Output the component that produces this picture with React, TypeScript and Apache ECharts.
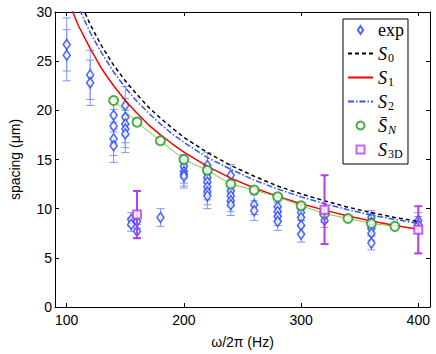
import React, { useEffect, useRef } from "react";
import * as echarts from "echarts";

// Experimental points (frequency in Hz, spacing in µm, error half-width)
const expFreq = [
  100, 100, 120, 120, 140, 140, 140, 140, 150, 150, 150, 150, 150, 155, 155, 160, 160, 180,
  200, 200, 200, 200, 220, 220, 220, 220, 220, 220, 240, 240, 240, 240, 240, 260, 260,
  280, 280, 280, 280, 300, 300, 300, 300, 320, 320, 360, 360, 360, 360, 360, 400, 400,
];
const expSpacing = [
  26.7, 25.6, 23.6, 22.8, 19.5, 18.4, 17.1, 16.4, 20.5, 19.3, 18.6, 18.1, 17.6, 8.9, 8.4, 8.7, 7.7, 9.1,
  14.3, 13.8, 13.5, 13.3, 14.4, 13.2, 12.7, 12.2, 11.7, 11.3, 13.4, 11.8, 11.3, 10.8, 10.4, 10.4, 9.8,
  10.2, 9.7, 9.2, 8.7, 9.6, 9.1, 8.3, 7.4, 9.3, 8.8, 9.1, 8.6, 8.0, 7.5, 6.5, 8.8, 8.4,
];
const expError = [
  2.7, 2.6, 2.5, 2.3, 1.7, 1.7, 1.7, 1.7, 1.9, 1.9, 1.9, 1.9, 1.9, 0.7, 0.7, 0.7, 0.7, 0.9,
  1.2, 1.2, 1.2, 1.2, 1.3, 1.3, 1.3, 1.3, 1.3, 1.3, 1.1, 1.1, 1.1, 1.1, 1.1, 1.0, 1.0,
  0.9, 0.9, 0.9, 0.9, 0.8, 0.8, 0.8, 0.8, 0.7, 0.7, 0.7, 0.7, 0.7, 0.7, 0.7, 0.8, 0.8,
];

// Model curves
const curveFreq = [100, 110, 120, 130, 140, 150, 160, 170, 180, 190, 200, 220, 240, 260, 280, 300, 320, 340, 360, 380, 400];
const s0Values = [34.5, 31.4, 28.75, 26.5, 24.6, 23.0, 21.6, 20.3, 19.2, 18.2, 17.25, 15.7, 14.4, 13.3, 12.3, 11.5, 10.8, 10.15, 9.6, 9.1, 8.7];
const s1Values = [31.5, 28.6, 26.3, 24.2, 22.5, 21.0, 19.7, 18.5, 17.5, 16.6, 15.75, 14.3, 13.1, 12.1, 11.25, 10.5, 9.85, 9.26, 8.75, 8.29, 7.9];
const s2Values = [33.5, 30.5, 27.9, 25.8, 23.9, 22.3, 20.9, 19.7, 18.6, 17.6, 16.75, 15.2, 14.0, 12.9, 12.0, 11.2, 10.5, 9.9, 9.35, 8.9, 8.5];

// Mean-field points
const snFreq = [140, 160, 180, 200, 220, 240, 260, 280, 300, 320, 340, 360, 380];
const snValues = [21.0, 18.8, 16.9, 15.0, 13.9, 12.5, 11.9, 11.2, 10.3, 9.5, 9.0, 8.5, 8.2];

// 3D simulation points
const s3dFreq = [160, 320, 400];
const s3dValues = [9.4, 9.9, 7.85];
const s3dError = [2.4, 3.5, 2.4];

const xTicks = [100, 200, 300, 400];

const BLUE = "#2244ff";
const BLUE_ERR = "#7f96ff";
const GREEN = "#1a9a1a";
const GREEN_LINE = "#6fcf4f";
const PURPLE = "#b43cf0";

function errorBarSeries(name: string, data: number[][], color: string, width: number, cap: number, z: number) {
  return {
    name,
    type: "custom",
    z,
    data,
    encode: { x: 0, y: [1, 2] },
    renderItem: (_params: any, api: any) => {
      const x = api.value(0);
      const lo = api.coord([x, api.value(1)]);
      const hi = api.coord([x, api.value(2)]);
      const w = cap / 2;
      const style = { stroke: color, lineWidth: width };
      return {
        type: "group",
        children: [
          { type: "line", shape: { x1: lo[0], y1: lo[1], x2: hi[0], y2: hi[1] }, style },
          { type: "line", shape: { x1: lo[0] - w, y1: lo[1], x2: lo[0] + w, y2: lo[1] }, style },
          { type: "line", shape: { x1: hi[0] - w, y1: hi[1], x2: hi[0] + w, y2: hi[1] }, style },
        ],
      };
    },
  };
}

export default function App() {
  const ref = useRef<HTMLDivElement>(null);
  useEffect(() => {
    if (!ref.current) return;
    const chart = echarts.init(ref.current, undefined, { renderer: "svg" });
    const sans = "Liberation Sans";
    const serif = "Liberation Serif";
    const axisCommon = {
      axisLine: { show: true, onZero: false, lineStyle: { color: "#000", width: 1 } },
      splitLine: { show: false },
    };
    const legendNames: Record<string, string> = {
      exp: "{r|exp}",
      S0: "{i|S}{sub|0}",
      S1: "{i|S}{sub|1}",
      S2: "{i|S}{sub|2}",
      SN: "{i|S\u0304}{subi|N}",
      S3D: "{i|S}{sub|3D}",
    };
    const hideDot = { itemStyle: { opacity: 0 } };
    chart.setOption({
      animation: false,
      backgroundColor: "#fff",
      grid: { left: 48, right: 6, top: 12, bottom: 41 },
      legend: {
        orient: "vertical",
        left: 343,
        top: 19,
        width: 77,
        padding: [1, 4, 4, 4],
        itemGap: 3,
        itemWidth: 25,
        itemHeight: 8,
        symbolKeepAspect: true,
        backgroundColor: "#fff",
        borderColor: "#000",
        borderWidth: 1,
        borderRadius: 0,
        data: [
          { name: "exp", icon: "path://M3,0 L6,4.5 L3,9 L0,4.5 Z" },
          { name: "S0", ...hideDot },
          { name: "S1", ...hideDot },
          { name: "S2", ...hideDot },
          { name: "SN", icon: "circle" },
          { name: "S3D", icon: "path://M0,0 L8,0 L8,8 L0,8 Z" },
        ],
        formatter: (n: string) => legendNames[n] || n,
        textStyle: {
          color: "#000",
          height: 20,
          lineHeight: 20,
          rich: {
            r: { fontFamily: serif, fontSize: 18, lineHeight: 20, color: "#000" },
            i: { fontFamily: serif, fontStyle: "italic", fontSize: 18, lineHeight: 20, color: "#000" },
            sub: { fontFamily: serif, fontSize: 12, lineHeight: 11, padding: [9, 0, 0, 1], color: "#000" },
            subi: { fontFamily: serif, fontStyle: "italic", fontSize: 12, lineHeight: 11, padding: [9, 0, 0, 1], color: "#000" },
          },
        },
      },
      xAxis: [
        {
          ...axisCommon,
          type: "value",
          min: 90,
          max: 410,
          position: "bottom",
          name: "ω/2π (Hz)",
          nameLocation: "middle",
          nameGap: 28,
          nameTextStyle: { fontFamily: sans, fontSize: 14, color: "#000" },
          axisTick: { show: true, inside: true, length: 4, customValues: xTicks, lineStyle: { color: "#000" } },
          axisLabel: { customValues: xTicks, fontFamily: sans, fontSize: 14, color: "#000", margin: 6 },
        },
        {
          ...axisCommon,
          type: "value",
          min: 90,
          max: 410,
          position: "top",
          axisTick: { show: true, inside: true, length: 4, customValues: xTicks, lineStyle: { color: "#000" } },
          axisLabel: { show: false },
        },
      ],
      yAxis: [
        {
          ...axisCommon,
          type: "value",
          min: 0,
          max: 30,
          interval: 5,
          position: "left",
          name: "spacing (μm)",
          nameLocation: "middle",
          nameGap: 33,
          nameTextStyle: { fontFamily: sans, fontSize: 14, color: "#000" },
          axisTick: { show: true, inside: true, length: 4, lineStyle: { color: "#000" } },
          axisLabel: { fontFamily: sans, fontSize: 14, color: "#000", margin: 3 },
        },
        {
          ...axisCommon,
          type: "value",
          min: 0,
          max: 30,
          interval: 5,
          position: "right",
          axisTick: { show: true, inside: true, length: 4, lineStyle: { color: "#000" } },
          axisLabel: { show: false },
        },
      ],
      series: [
        errorBarSeries(
          "expErr",
          expFreq.map((f, i) => [f, expSpacing[i] - expError[i], expSpacing[i] + expError[i]]),
          BLUE_ERR, 1, 8, 2
        ),
        {
          name: "exp",
          type: "scatter",
          z: 3,
          symbol: "diamond",
          symbolSize: [7, 10],
          itemStyle: { color: "#fff", borderColor: BLUE, borderWidth: 1.6 },
          data: expFreq.map((f, i) => [f, expSpacing[i]]),
        },
        {
          name: "S0",
          type: "line",
          z: 4,
          showSymbol: false,
          symbol: "none",
          clip: true,
          lineStyle: { color: "#000", width: 1.5, type: [4, 3] },
          itemStyle: { color: "#000" },
          data: curveFreq.map((f, i) => [f, s0Values[i]]),
        },
        {
          name: "S1",
          type: "line",
          z: 4,
          showSymbol: false,
          symbol: "none",
          clip: true,
          lineStyle: { color: "#ff0000", width: 1.5 },
          itemStyle: { color: "#ff0000" },
          data: curveFreq.map((f, i) => [f, s1Values[i]]),
        },
        {
          name: "S2",
          type: "line",
          z: 4,
          showSymbol: false,
          symbol: "none",
          clip: true,
          lineStyle: { color: "#3355ff", width: 1.5, type: [6, 2, 1.5, 2] },
          itemStyle: { color: "#3355ff" },
          data: curveFreq.map((f, i) => [f, s2Values[i]]),
        },
        {
          name: "SNline",
          type: "line",
          z: 5,
          showSymbol: false,
          symbol: "none",
          lineStyle: { color: GREEN_LINE, width: 1 },
          data: snFreq.map((f, i) => [f, snValues[i]]),
        },
        {
          name: "SN",
          type: "scatter",
          z: 6,
          symbol: "circle",
          symbolSize: 9,
          itemStyle: { color: "#fff", borderColor: GREEN, borderWidth: 2 },
          data: snFreq.map((f, i) => [f, snValues[i]]),
        },
        errorBarSeries(
          "s3dErr",
          s3dFreq.map((f, i) => [f, s3dValues[i] - s3dError[i], s3dValues[i] + s3dError[i]]),
          PURPLE, 2, 8, 7
        ),
        {
          name: "S3D",
          type: "scatter",
          z: 8,
          symbol: "rect",
          symbolSize: 8,
          itemStyle: { color: "#fff", borderColor: PURPLE, borderWidth: 2 },
          data: s3dFreq.map((f, i) => [f, s3dValues[i]]),
        },
      ],
    });
    return () => chart.dispose();
  }, []);
  return <div ref={ref} style={{ width: 436, height: 354, position: "absolute", left: 0, top: 0 }} />;
}
